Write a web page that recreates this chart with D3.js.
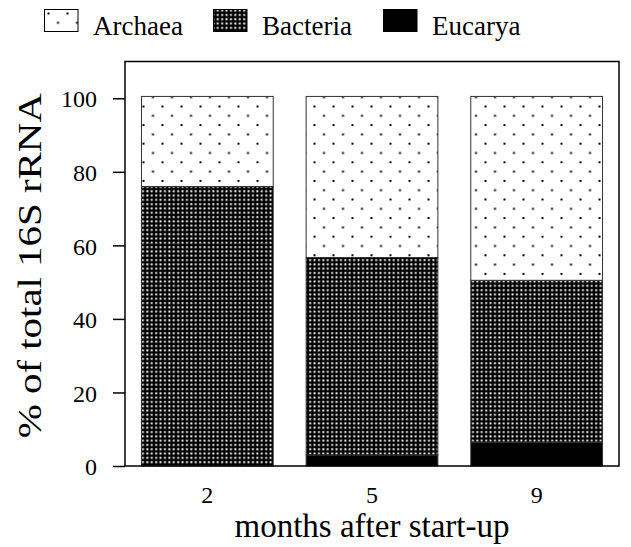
<!DOCTYPE html>
<html>
<head>
<meta charset="utf-8">
<script src="https://cdn.jsdelivr.net/npm/d3@7"></script>
<style>
  body { margin: 0; background: #fff; }
  svg { display: block; font-family: "Liberation Serif", "DejaVu Serif", serif; }
</style>
</head>
<body>
<div id="chart"></div>
<script>
// data
const months = ['2', '5', '9'];
const eucarya = [0, 3, 6.5];
const bacteria = [76, 53.7, 44];
const archaea = [24.5, 43.8, 50];
const yTicks = [0, 20, 40, 60, 80, 100];
const groups = ['Archaea', 'Bacteria', 'Eucarya'];

const width = 631, height = 547;
const frame = {left: 125, right: 619, top: 61.5, bottom: 466};
const serif = '"Liberation Serif", "DejaVu Serif", serif';

const svg = d3.select('#chart')
  .append('svg')
  .attr('width', width)
  .attr('height', height);

// fill patterns
const defs = svg.append('defs');
let pa = defs.append('pattern')
  .attr('id', 'pat-archaea')
  .attr('patternUnits', 'userSpaceOnUse')
  .attr('x', 142.5).attr('y', 105.5)
  .attr('width', 19).attr('height', 18.6);
pa.append('rect').attr('width', 19).attr('height', 18.6).attr('fill', 'white');
pa.append('rect').attr('x', 0).attr('y', 0).attr('width', 2).attr('height', 2).attr('fill', 'black');
pa.append('rect').attr('x', 9.5).attr('y', 9.3).attr('width', 2).attr('height', 2).attr('fill', 'black');

let pb = defs.append('pattern')
  .attr('id', 'pat-bacteria')
  .attr('patternUnits', 'userSpaceOnUse')
  .attr('width', 4.4).attr('height', 4.3);
pb.append('rect').attr('width', 4.4).attr('height', 4.3).attr('fill', 'black');
pb.append('rect').attr('x', 1.2).attr('y', 1.1).attr('width', 1.9).attr('height', 1.9)
  .attr('fill', 'white');

const fills = {
  Archaea: 'url(#pat-archaea)',
  Bacteria: 'url(#pat-bacteria)',
  Eucarya: 'black'
};

const x = d3.scaleBand()
  .domain(months)
  .range([frame.left, frame.right])
  .paddingInner(0.2)
  .paddingOuter(0.1);

const y = d3.scaleLinear()
  .domain([0, 110])
  .range([frame.bottom, frame.top]);

// stack the series, bottom to top: Eucarya, Bacteria, Archaea
const rows = months.map((m, i) => ({
  month: m, Eucarya: eucarya[i], Bacteria: bacteria[i], Archaea: archaea[i]
}));
const stack = d3.stack().keys(['Eucarya', 'Bacteria', 'Archaea'])(rows);

svg.append('g')
  .selectAll('g')
  .data(stack)
  .join('g')
  .attr('fill', d => fills[d.key])
  .selectAll('rect')
  .data(d => d)
  .join('rect')
  .attr('x', d => x(d.data.month))
  .attr('y', d => y(d[1]))
  .attr('width', x.bandwidth())
  .attr('height', d => y(d[0]) - y(d[1]))
  .attr('stroke', d => d[1] - d[0] > 0 ? '#333' : 'none')
  .attr('stroke-width', 1);

// frame
svg.append('rect')
  .attr('x', frame.left)
  .attr('y', frame.top)
  .attr('width', frame.right - frame.left)
  .attr('height', frame.bottom - frame.top)
  .attr('fill', 'none')
  .attr('stroke', 'black')
  .attr('stroke-width', 1.5);

// y axis
let yAxis = svg.append('g')
  .attr('transform', `translate(${frame.left},0)`)
  .call(d3.axisLeft(y).tickValues(yTicks).tickSize(12).tickPadding(16));
yAxis.attr('font-family', serif).attr('font-size', 24);
yAxis.select('.domain').remove();
yAxis.selectAll('line').attr('stroke-width', 1.5);
yAxis.selectAll('text').attr('dy', '0.36em');

// x axis labels
let xAxis = svg.append('g')
  .attr('transform', `translate(0,${frame.bottom})`)
  .call(d3.axisBottom(x).tickSize(0).tickPadding(0));
xAxis.attr('font-family', serif).attr('font-size', 24);
xAxis.select('.domain').remove();
xAxis.selectAll('text')
  .attr('dy', null)
  .attr('y', 37);

// axis titles
svg.append('text')
  .attr('x', (frame.left + frame.right) / 2)
  .attr('y', 537)
  .attr('text-anchor', 'middle')
  .attr('font-family', serif)
  .attr('font-size', 33)
  .text('months after start-up');

svg.append('text')
  .attr('transform', `translate(41,${(frame.top + frame.bottom) / 2 + 2}) rotate(-90)`)
  .attr('text-anchor', 'middle')
  .attr('font-family', serif)
  .attr('font-size', 34)
  .attr('textLength', 345)
  .attr('lengthAdjust', 'spacingAndGlyphs')
  .text('% of total 16S rRNA');

// legend
const legendX = [44, 213, 383];
let legend = svg.append('g');
groups.forEach((g, i) => {
  legend.append('rect')
    .attr('x', legendX[i] + 0.5)
    .attr('y', 9.5)
    .attr('width', 33.5)
    .attr('height', 22)
    .attr('fill', fills[g])
    .attr('stroke', 'black')
    .attr('stroke-width', 1);
  legend.append('text')
    .attr('x', legendX[i] + 49)
    .attr('y', 35)
    .attr('font-family', serif)
    .attr('font-size', 27)
    .text(g);
});
</script>
</body>
</html>
